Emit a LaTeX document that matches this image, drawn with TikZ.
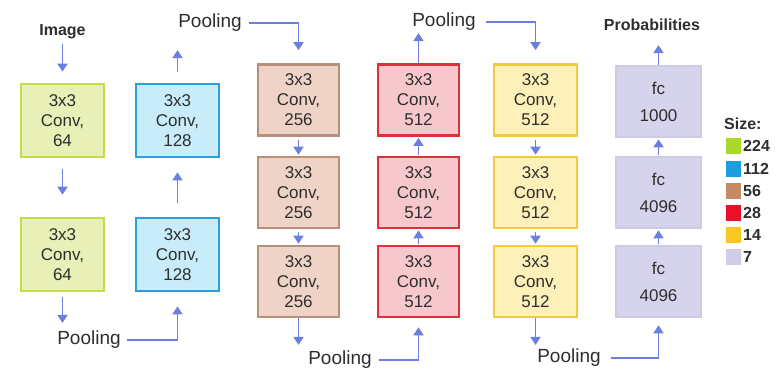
\documentclass[tikz,border=0pt]{standalone}
\usepackage{fontspec}
\setmainfont{Liberation Sans}
\usetikzlibrary{arrows.meta}
\definecolor{txt}{HTML}{2E2E2E}
\definecolor{arr}{HTML}{6C7EE0}
\definecolor{gB}{HTML}{C3DC4A}\definecolor{gF}{HTML}{E8F0B8}\definecolor{gL}{HTML}{A8D82A}
\definecolor{bB}{HTML}{2AA0DC}\definecolor{bF}{HTML}{C8ECFA}\definecolor{bL}{HTML}{1A9EE0}
\definecolor{nB}{HTML}{B8907A}\definecolor{nF}{HTML}{EED3C6}\definecolor{nL}{HTML}{C58A62}
\definecolor{rB}{HTML}{E0303A}\definecolor{rF}{HTML}{F7C8CB}\definecolor{rL}{HTML}{E8102A}
\definecolor{yB}{HTML}{F2CC3A}\definecolor{yF}{HTML}{FDF0B8}\definecolor{yL}{HTML}{F8C820}
\definecolor{lB}{HTML}{CDCAE6}\definecolor{lF}{HTML}{D6D3EC}\definecolor{lL}{HTML}{CFCDE8}
\begin{document}
\begin{tikzpicture}[x=1pt,y=-1pt,
  convbox/.style={line width=2.6pt, align=center, text=txt, inner sep=0pt,
    font=\fontsize{17}{20}\selectfont, minimum width=83pt, minimum height=73pt},
  gbox/.style={convbox, draw=gB, fill=gF},
  bbox/.style={convbox, draw=bB, fill=bF},
  nbox/.style={convbox, draw=nB, fill=nF, minimum width=81pt, minimum height=71pt},
  rbox/.style={convbox, draw=rB, fill=rF, minimum width=81pt, minimum height=71pt},
  ybox/.style={convbox, draw=yB, fill=yF, minimum width=83pt, minimum height=71pt},
  lbox/.style={convbox, draw=lB, fill=lF, minimum width=85pt, minimum height=71pt},
  flow/.style={draw=arr, line width=1.9pt, -{Triangle[length=8pt,width=10pt]}},
  pool/.style={font=\fontsize{19}{22}\selectfont, text=txt, inner sep=0pt},
  ttl/.style={font=\bfseries\fontsize{16}{19}\selectfont, text=txt, inner sep=0pt},
  lgtxt/.style={font=\bfseries\fontsize{16}{19}\selectfont, text=txt, inner sep=0pt, anchor=west},
  lgsq/.style={minimum width=15pt, minimum height=16pt, inner sep=0pt}
]
\useasboundingbox (0,0) rectangle (779,369);

% column 1
\node[gbox] (c1a) at (62.5,120.5) {3x3\\Conv,\\64};
\node[gbox] (c1b) at (62.5,254.5) {3x3\\Conv,\\64};
% column 2
\node[bbox] (c2a) at (177.5,120.5) {3x3\\Conv,\\128};
\node[bbox] (c2b) at (177.5,254.5) {3x3\\Conv,\\128};
% column 3
\node[nbox] (c3a) at (298.5,100) {3x3\\Conv,\\256};
\node[nbox] (c3b) at (298.5,192.5) {3x3\\Conv,\\256};
\node[nbox] (c3c) at (298.5,281.5) {3x3\\Conv,\\256};
% column 4
\node[rbox] (c4a) at (418.5,100) {3x3\\Conv,\\512};
\node[rbox] (c4b) at (418.5,192.5) {3x3\\Conv,\\512};
\node[rbox] (c4c) at (418.5,281.5) {3x3\\Conv,\\512};
% column 5
\node[ybox] (c5a) at (535.5,100) {3x3\\Conv,\\512};
\node[ybox] (c5b) at (535.5,192.5) {3x3\\Conv,\\512};
\node[ybox] (c5c) at (535.5,281.5) {3x3\\Conv,\\512};
% column 6
\node[lbox] (c6a) at (658.5,101.5) {fc\\[7pt]1000};
\node[lbox] (c6b) at (658.5,192.5) {fc\\[7pt]4096};
\node[lbox] (c6c) at (658.5,281.5) {fc\\[7pt]4096};

% labels
\node[ttl] (img) at (62.5,32) {Image};
\node[ttl] (prob) at (652,25) {Probabilities};
\node[pool] (p1) at (89,340) {Pooling};
\node[pool] (p2) at (210,23) {Pooling};
\node[pool] (p3) at (340,360) {Pooling};
\node[pool] (p4) at (444,22) {Pooling};
\node[pool] (p5) at (569,358) {Pooling};

% connectors
\draw[flow, shorten <=5pt, shorten >=11pt] (img.south) -- (c1a.north);
\draw[flow, shorten <=11pt, shorten >=22pt] (c1a.south) -- (c1b.north);
\draw[flow, shorten <=5pt, shorten >=8pt] (c1b.south) -- (c1b.south |- p1.north);
\draw[flow, shorten <=6pt, shorten >=14pt] (p1.east) -| (c2b.south);
\draw[flow, shorten <=14pt, shorten >=14pt] (c2b.north) -- (c2a.south);
\draw[flow, shorten <=11pt, shorten >=18pt] (c2a.north) -- (c2a.north |- p2.south);
\draw[flow, shorten <=7pt, shorten >=13pt] (p2.east) -| (c3a.north);
\draw[flow, shorten <=3pt, shorten >=1pt] (c3a.south) -- (c3b.north);
\draw[flow, shorten <=3pt, shorten >=1pt] (c3b.south) -- (c3c.north);
\draw[flow, shorten <=0pt, shorten >=6pt] (c3c.south) -- (c3c.south |- p3.north);
\draw[flow, shorten <=7pt, shorten >=9pt] (p3.east) -| (c4c.south);
\draw[flow, shorten <=1pt, shorten >=1pt] (c4c.north) -- (c4b.south);
\draw[flow, shorten <=1pt, shorten >=1pt] (c4b.north) -- (c4a.south);
\draw[flow, shorten <=0pt, shorten >=2pt] (c4a.north) -- (c4a.north |- p4.south);
\draw[flow, shorten <=10pt, shorten >=13pt] (p4.east) -| (c5a.north);
\draw[flow, shorten <=3pt, shorten >=1pt] (c5a.south) -- (c5b.north);
\draw[flow, shorten <=3pt, shorten >=1pt] (c5b.south) -- (c5c.north);
\draw[flow, shorten <=0pt, shorten >=4pt] (c5c.south) -- (c5c.south |- p5.north);
\draw[flow, shorten <=10pt, shorten >=7pt] (p5.east) -| (c6c.south);
\draw[flow, shorten <=1pt, shorten >=1pt] (c6c.north) -- (c6b.south);
\draw[flow, shorten <=1pt, shorten >=1pt] (c6b.north) -- (c6a.south);
\draw[flow, shorten <=0pt, shorten >=14pt] (c6a.north) -- (c6a.north |- prob.south);

% legend
\node[lgtxt] (lsz) at (724,124) {Size:};
\node[lgsq, fill=gL] (q1) at (733,146) {};
\node[lgsq, fill=bL] (q2) at (733,168.5) {};
\node[lgsq, fill=nL] (q3) at (733,191) {};
\node[lgsq, fill=rL] (q4) at (733,213) {};
\node[lgsq, fill=yL] (q5) at (733,235) {};
\node[lgsq, fill=lL] (q6) at (733,257) {};
\node[lgtxt] (t1) at (743,146) {224};
\node[lgtxt] (t2) at (743,168.5) {112};
\node[lgtxt] (t3) at (743,191) {56};
\node[lgtxt] (t4) at (743,213) {28};
\node[lgtxt] (t5) at (743,235) {14};
\node[lgtxt] (t6) at (743,257) {7};
\end{tikzpicture}
\end{document}
